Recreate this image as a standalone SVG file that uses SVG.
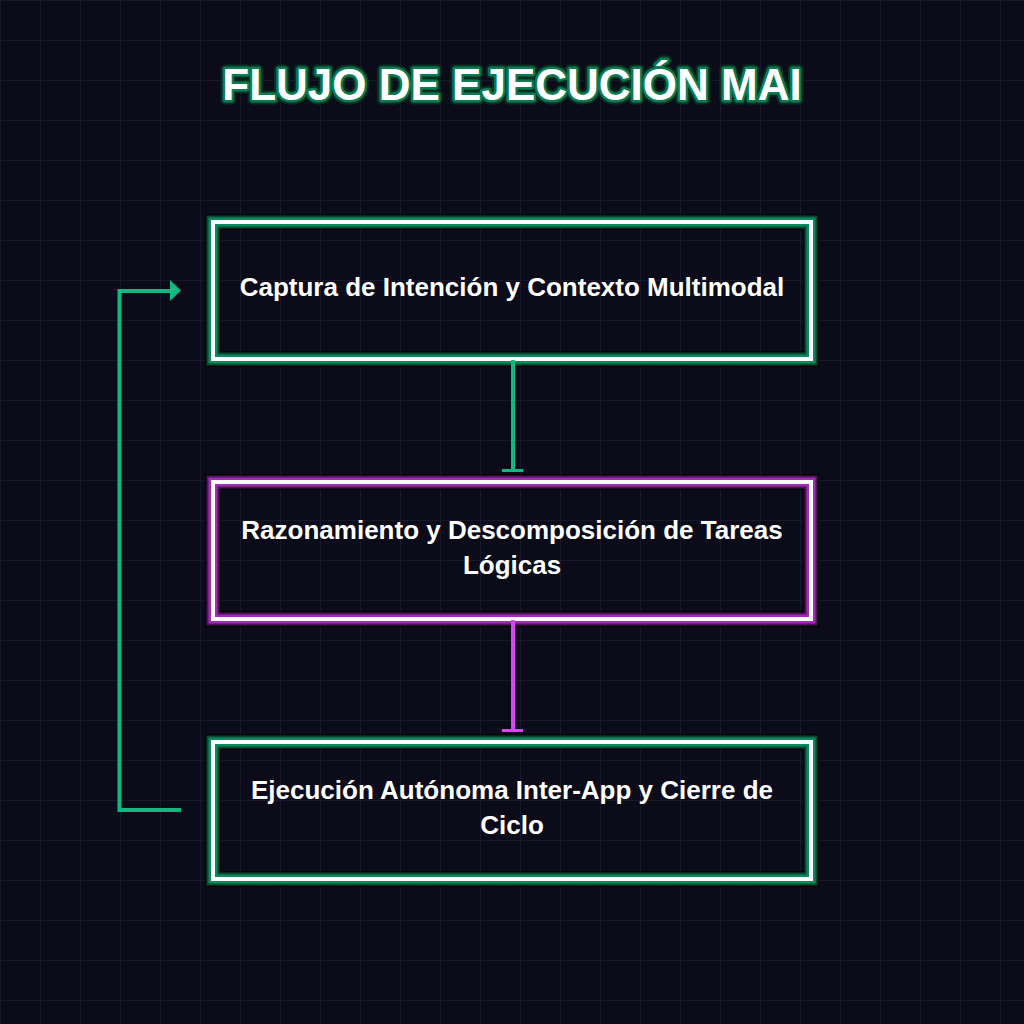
<svg xmlns="http://www.w3.org/2000/svg" width="1024" height="1024" viewBox="0 0 1024 1024">
<defs>
<pattern id="grid" width="40" height="40" patternUnits="userSpaceOnUse">
<path d="M40 0H0V40" fill="none" stroke="#1b1b2f" stroke-width="1.5"/>
</pattern>
<style>
.t{font-family:"Liberation Sans",Arial,sans-serif;font-weight:bold;fill:#ffffff;text-anchor:middle}
.lbl{font-size:26px}
.ttl{font-size:44px;paint-order:stroke;stroke-linejoin:round}
.b0{fill:none;stroke:#050508;stroke-width:16}
.w{fill:none;stroke:#ffffff;stroke-width:4}
.g1{fill:none;stroke:#0a4a33;stroke-width:13}
.g2{fill:none;stroke:#0b8a5e;stroke-width:9}
.p1{fill:none;stroke:#4d1557;stroke-width:13}
.p2{fill:none;stroke:#a12cb5;stroke-width:9}
.cg{fill:none;stroke:#10b981;stroke-width:4}
.cp{fill:none;stroke:#d946ef;stroke-width:4}
</style>
</defs>
<rect width="1024" height="1024" fill="#0b0b19"/>
<rect width="1024" height="1024" fill="url(#grid)"/>

<g id="title">
<text class="t ttl" x="512" y="100" stroke="#06301f" stroke-width="9">FLUJO DE EJECUCIÓN MAI</text>
<text class="t ttl" x="512" y="100" stroke="#0d7a52" stroke-width="5">FLUJO DE EJECUCIÓN MAI</text>
</g>

<g id="node1">
<rect class="b0" x="213" y="222" width="598" height="137"/>
<rect class="g1" x="213" y="222" width="598" height="137"/>
<rect class="g2" x="213" y="222" width="598" height="137"/>
<rect class="w" x="213" y="222" width="598" height="137"/>
<text class="t lbl" x="512" y="296">Captura de Intención y Contexto Multimodal</text>
</g>

<g id="node2">
<rect class="b0" x="213" y="482" width="598" height="137"/>
<rect class="p1" x="213" y="482" width="598" height="137"/>
<rect class="p2" x="213" y="482" width="598" height="137"/>
<rect class="w" x="213" y="482" width="598" height="137"/>
<text class="t lbl" x="512" y="539">Razonamiento y Descomposición de Tareas</text>
<text class="t lbl" x="512" y="574">Lógicas</text>
</g>

<g id="node3">
<rect class="b0" x="213" y="742" width="598" height="137"/>
<rect class="g1" x="213" y="742" width="598" height="137"/>
<rect class="g2" x="213" y="742" width="598" height="137"/>
<rect class="w" x="213" y="742" width="598" height="137"/>
<text class="t lbl" x="512" y="799">Ejecución Autónoma Inter-App y Cierre de</text>
<text class="t lbl" x="512" y="834">Ciclo</text>
</g>

<g id="connectors">
<line class="cg" x1="513" y1="360" x2="513" y2="470"/>
<rect x="502" y="469" width="21" height="3" fill="#10b981"/>
<line class="cp" x1="513" y1="620" x2="513" y2="730"/>
<rect x="502" y="729" width="21" height="3" fill="#d946ef"/>
<path class="cg" d="M181 810H119.5V291H171"/>
<path d="M170 280L181 290.5L170 301Z" fill="#10b981"/>
</g>
</svg>
